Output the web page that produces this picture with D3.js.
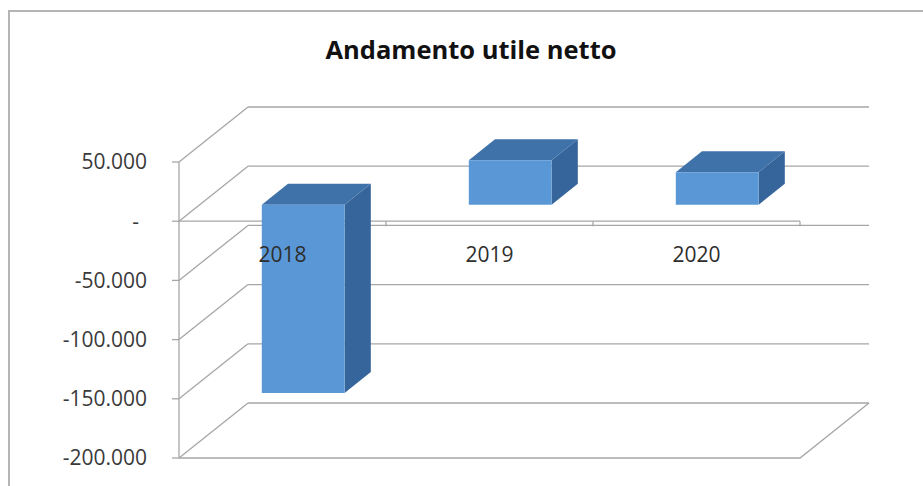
<!DOCTYPE html>
<html>
<head>
<meta charset="utf-8">
<script src="https://cdn.jsdelivr.net/npm/d3@7"></script>
<style>
  html, body { margin: 0; padding: 0; background: #fff; }
  svg { display: block; }
  .tick-label { font-family: "Open Sans", sans-serif; font-size: 21px; fill: #3a3a3a; }
  .cat-label { font-family: "Open Sans", sans-serif; font-size: 21px; fill: #2e2e2e; }
  .title { font-family: "Open Sans", sans-serif; font-size: 25.5px; font-weight: bold; fill: #111; }
</style>
</head>
<body>
<svg id="chart" width="923" height="486"></svg>
<script>
/* 3D column chart — Andamento utile netto */

const categories = ["2018", "2019", "2020"];
const values     = [-159000, 37600, 27400];
const tickValues = [50000, 0, -50000, -100000, -150000, -200000];
const tickLabels = ["50.000", "-", "-50.000", "-100.000", "-150.000", "-200.000"];

const W = 923, H = 486;
const LEFT   = 179;   // front-left edge of the plot
const RIGHT  = 800;   // front-right edge
const TOP    = 162;   // y of max value on front plane
const BOTTOM = 458;   // y of min value on front plane
const DX = 69, DY = -55;        // full depth offset of the back wall
const BAR_D0 = 0.30, BAR_D1 = 0.68;  // bar depth (fraction of wall depth)
const BAR_FRAC = 0.4;
const GRID = "#a6a6a6";

const svg = d3.select("#chart");

// ── Frame ──
svg.append("path")
  .attr("d", `M9,${H} L9,11 L${W},11`)
  .attr("fill", "none")
  .attr("stroke", "#b4b4b4")
  .attr("stroke-width", 2);

// ── Title ──
svg.append("text")
  .attr("class", "title")
  .attr("x", 471)
  .attr("y", 59)
  .attr("text-anchor", "middle")
  .text("Andamento utile netto");

// ── Scales ──
const y = d3.scaleLinear().domain([-200000, 50000]).range([BOTTOM, TOP]);
const x = d3.scaleBand().domain(categories).range([LEFT, RIGHT]);
const depth = d3.scaleLinear().domain([0, 1]).range([0, 1]);
const off = t => [DX * depth(t), DY * depth(t)];

const g = svg.append("g");

// ── Back wall gridlines + side wall diagonals ──
tickValues.forEach(v => {
  const yy = y(v);
  g.append("line")
    .attr("x1", LEFT + DX).attr("y1", yy + DY)
    .attr("x2", RIGHT + DX).attr("y2", yy + DY)
    .attr("stroke", GRID).attr("stroke-width", 1.3);
  g.append("line")
    .attr("x1", LEFT).attr("y1", yy)
    .attr("x2", LEFT + DX).attr("y2", yy + DY)
    .attr("stroke", GRID).attr("stroke-width", 1.3);
  // tick mark
  g.append("line")
    .attr("x1", LEFT - 7).attr("y1", yy)
    .attr("x2", LEFT).attr("y2", yy)
    .attr("stroke", GRID).attr("stroke-width", 1.3);
});

// ── Value axis (front-left vertical) ──
g.append("line")
  .attr("x1", LEFT).attr("y1", TOP)
  .attr("x2", LEFT).attr("y2", BOTTOM)
  .attr("stroke", GRID).attr("stroke-width", 1.3);

// ── Floor front + right edges ──
g.append("path")
  .attr("d", `M${LEFT},${BOTTOM} L${RIGHT},${BOTTOM} L${RIGHT + DX},${BOTTOM + DY}`)
  .attr("fill", "none")
  .attr("stroke", GRID).attr("stroke-width", 1.3);

// ── Category axis at zero ──
const y0 = y(0);
g.append("line")
  .attr("x1", LEFT).attr("y1", y0)
  .attr("x2", RIGHT).attr("y2", y0)
  .attr("stroke", GRID).attr("stroke-width", 1.3);
categories.forEach(c => {
  const xx = x(c) + x.bandwidth();
  g.append("line")
    .attr("x1", xx).attr("y1", y0)
    .attr("x2", xx).attr("y2", y0 + 5)
    .attr("stroke", GRID).attr("stroke-width", 1.3);
});

// ── Bars ──
const [fx, fy] = off(BAR_D0);
const [bx, by] = off(BAR_D1);
const bw = x.bandwidth() * BAR_FRAC;

categories.forEach((c, i) => {
  const v = values[i];
  const x0 = x(c) + (x.bandwidth() - bw) / 2;
  const x1 = x0 + bw;
  const yt = y(Math.max(0, v));
  const yb = y(Math.min(0, v));
  const pts = a => a.map(p => p.join(",")).join(" ");

  // right side
  g.append("polygon")
    .attr("points", pts([[x1 + fx, yt + fy], [x1 + bx, yt + by], [x1 + bx, yb + by], [x1 + fx, yb + fy]]))
    .attr("fill", "#35659a");
  // top
  g.append("polygon")
    .attr("points", pts([[x0 + fx, yt + fy], [x0 + bx, yt + by], [x1 + bx, yt + by], [x1 + fx, yt + fy]]))
    .attr("fill", "#3f72a8");
  // front
  g.append("polygon")
    .attr("points", pts([[x0 + fx, yt + fy], [x1 + fx, yt + fy], [x1 + fx, yb + fy], [x0 + fx, yb + fy]]))
    .attr("fill", "#5a97d6");
});

// ── Tick labels ──
tickValues.forEach((v, i) => {
  svg.append("text")
    .attr("class", "tick-label")
    .attr("x", v === 0 ? 139 : 147)
    .attr("y", y(v))
    .attr("dy", "0.35em")
    .attr("text-anchor", "end")
    .text(tickLabels[i]);
});

// ── Category labels ──
categories.forEach(c => {
  svg.append("text")
    .attr("class", "cat-label")
    .attr("x", x(c) + x.bandwidth() / 2)
    .attr("y", 255)
    .attr("dy", "0.35em")
    .attr("text-anchor", "middle")
    .text(c);
});
</script>
</body>
</html>
